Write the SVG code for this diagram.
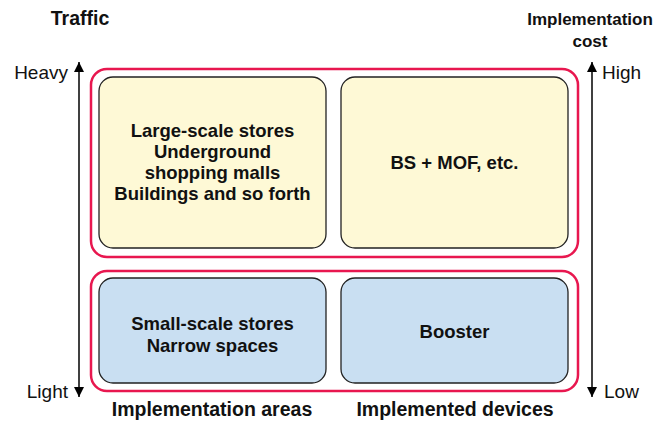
<svg xmlns="http://www.w3.org/2000/svg" width="671" height="422" viewBox="0 0 671 422">
<defs>
<style>
.t{font-family:"Liberation Sans",Arial,sans-serif;font-size:19px;fill:#111}
.b{font-weight:bold;font-size:18.5px}
.lg{font-size:19.5px}
.sm{font-size:17px}
.grp{fill:none;stroke:#e8174f;stroke-width:2.5}
.yel{fill:#fef9d6;stroke:#222;stroke-width:1.3}
.blu{fill:#c9dff2;stroke:#222;stroke-width:1.3}
.ax{stroke:#000;stroke-width:1.5;fill:none}
</style>
<marker id="ah" viewBox="0 0 10 10" refX="10" refY="5" markerWidth="10" markerHeight="10" markerUnits="userSpaceOnUse" orient="auto">
<path d="M0,0 L10,5 L0,10 z" fill="#000"/>
</marker>
</defs>
<g id="connectors">
<line class="ax" x1="79" y1="230" x2="79" y2="62" marker-end="url(#ah)"/>
<line class="ax" x1="79" y1="230" x2="79" y2="397" marker-end="url(#ah)"/>
<line class="ax" x1="592" y1="230" x2="592" y2="62" marker-end="url(#ah)"/>
<line class="ax" x1="592" y1="230" x2="592" y2="397" marker-end="url(#ah)"/>
</g>
<g id="group-top"><rect class="grp" x="91" y="69" width="487" height="188" rx="16"/></g>
<g id="group-bottom"><rect class="grp" x="91" y="271" width="487" height="120" rx="16"/></g>
<g id="node-large">
<rect class="yel" x="99" y="77" width="227" height="171" rx="14"/>
<text class="t b" text-anchor="middle" x="212.5" y="137">Large-scale stores</text>
<text class="t b" text-anchor="middle" x="212.5" y="158">Underground</text>
<text class="t b" text-anchor="middle" x="212.5" y="179">shopping malls</text>
<text class="t b" text-anchor="middle" x="212.5" y="200">Buildings and so forth</text>
</g>
<g id="node-bs">
<rect class="yel" x="341" y="77" width="227" height="171" rx="14"/>
<text class="t b" text-anchor="middle" x="454.5" y="169">BS + MOF, etc.</text>
</g>
<g id="node-small">
<rect class="blu" x="99" y="278" width="227" height="105" rx="14"/>
<text class="t b" text-anchor="middle" x="212.5" y="330">Small-scale stores</text>
<text class="t b" text-anchor="middle" x="212.5" y="352">Narrow spaces</text>
</g>
<g id="node-booster">
<rect class="blu" x="341" y="278" width="227" height="105" rx="14"/>
<text class="t b" text-anchor="middle" x="454.5" y="338">Booster</text>
</g>
<g id="labels">
<text class="t b lg" text-anchor="middle" x="80" y="25">Traffic</text>
<text class="t b sm" text-anchor="middle" x="590" y="25">Implementation</text>
<text class="t b sm" text-anchor="middle" x="590" y="47">cost</text>
<text class="t" text-anchor="end" x="68" y="79">Heavy</text>
<text class="t" x="602" y="79">High</text>
<text class="t" text-anchor="end" x="68" y="398">Light</text>
<text class="t" x="604" y="398">Low</text>
<text class="t b lg" text-anchor="middle" x="212" y="416">Implementation areas</text>
<text class="t b lg" text-anchor="middle" x="455" y="416">Implemented devices</text>
</g>
</svg>
